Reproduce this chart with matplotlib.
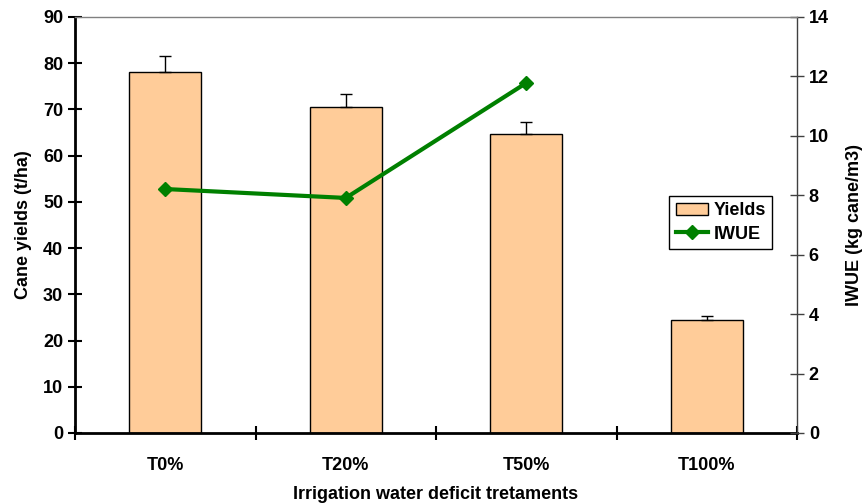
import numpy as np
import matplotlib
matplotlib.use("Agg")
import matplotlib.pyplot as plt
from matplotlib.ticker import FixedLocator

plt.rcParams['font.family'] = ['Liberation Sans', 'DejaVu Sans']
plt.rcParams['font.weight'] = 'bold'

treatments = ['T0%', 'T20%', 'T50%', 'T100%']
yields = [78.2, 70.5, 64.7, 24.4]
yield_err = [3.4, 2.8, 2.6, 1.0]
iwue = [8.21, 7.91, 11.78]

fs = 13

fig = plt.figure(figsize=(8.64, 5.04), dpi=100)
ax = fig.add_axes([0.0868, 0.1409, 0.8357, 0.8254])
ax2 = ax.twinx()

x = np.arange(len(treatments))
bars = ax.bar(x, yields, width=0.4, color='#FFCC99', edgecolor='black',
              linewidth=1.0, label='Yields', zorder=2)
ax.errorbar(x, yields, yerr=[np.zeros(len(yields)), yield_err], fmt='none',
            ecolor='black', elinewidth=1.0, capsize=4, capthick=1.0, zorder=3)

line, = ax2.plot(x[:len(iwue)], iwue, color='#008000', linewidth=3,
                 marker='D', markersize=7, label='IWUE', zorder=4)

ax.set_xlim(-0.5, 3.5)
ax.set_ylim(0, 90)
ax.set_yticks(np.arange(0, 91, 10))
ax2.set_ylim(0, 14)
ax2.set_yticks(np.arange(0, 15, 2))

ax.set_xticks(x)
ax.set_xticklabels(treatments, fontsize=fs, fontweight='bold')
ax.tick_params(axis='x', which='major', length=0, pad=17)
ax.xaxis.set_minor_locator(FixedLocator([-0.5, 0.5, 1.5, 2.5, 3.5]))
ax.tick_params(axis='x', which='minor', direction='inout', length=10, width=1.5)

ax.tick_params(axis='y', direction='inout', length=10, width=1.5, labelsize=fs)
ax2.tick_params(axis='y', direction='inout', length=10, width=1.0,
                color='#404040', labelsize=fs)
for lab in ax.get_yticklabels() + ax2.get_yticklabels():
    lab.set_fontweight('bold')

for s in ['left', 'bottom']:
    ax.spines[s].set_linewidth(2)
    ax.spines[s].set_color('black')
ax2.spines['left'].set_visible(False)
ax2.spines['bottom'].set_visible(False)
ax2.spines['top'].set_color('#808080')
ax2.spines['top'].set_linewidth(1)
ax.spines['top'].set_visible(False)
ax.spines['right'].set_visible(False)
ax2.spines['right'].set_color('#404040')
ax2.spines['right'].set_linewidth(1)

ax.set_ylabel('Cane yields (t/ha)', fontsize=fs, fontweight='bold', labelpad=8)
ax2.set_ylabel('IWUE (kg cane/m3)', fontsize=fs, fontweight='bold', labelpad=12)
ax.set_xlabel('Irrigation water deficit tretaments', fontsize=fs,
              fontweight='bold', labelpad=9)

leg = ax2.legend([bars, line], ['Yields', 'IWUE'], loc='upper left',
                 bbox_to_anchor=(0.823, 0.570), fontsize=fs, frameon=True,
                 fancybox=False, edgecolor='black', framealpha=1,
                 handlelength=1.8, borderpad=0.35, labelspacing=0.35,
                 handletextpad=0.3, borderaxespad=0)
leg.get_frame().set_linewidth(1)
for t in leg.get_texts():
    t.set_fontweight('bold')

fig.savefig('out.png', dpi=100)
